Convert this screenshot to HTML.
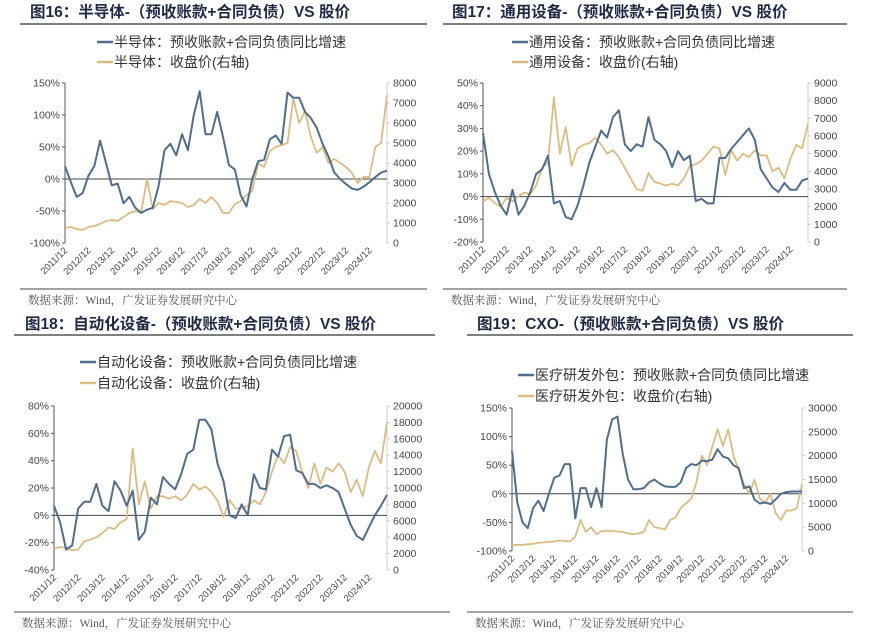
<!DOCTYPE html>
<html><head><meta charset="utf-8"><style>
html,body{margin:0;padding:0;background:#fff;}
svg{display:block;font-family:"Liberation Sans","Noto Sans CJK SC",sans-serif;}
</style></head><body>
<svg id="c" width="869" height="638" viewBox="0 0 869 638"></svg>
<script>
// ---------- data (quarterly from 2011/12) ----------
const yearLabels = ["2011/12","2012/12","2013/12","2014/12","2015/12","2016/12","2017/12","2018/12","2019/12","2020/12","2021/12","2022/12","2023/12","2024/12"];
const semiGrowth = [20,-5,-28,-22,5,20,60,25,-10,-7,-38,-28,-45,-53,-48,-45,-10,45,55,37,70,45,100,137,70,70,105,65,22,15,-25,-43,0,28,30,62,68,55,135,127,127,105,95,80,55,35,10,0,-8,-15,-17,-12,-5,3,10,13];
const semiPrice = [750,800,700,650,800,850,950,1100,1150,1100,1300,1500,1600,1500,3200,1700,2000,1900,2100,2050,2000,1800,1900,2200,2000,2300,2000,1500,1500,1950,2100,2400,2600,4000,3800,4600,4800,4900,5000,7200,6000,6600,5300,4500,4800,4000,4200,4000,3800,3500,3000,3300,3300,4800,5000,7400];
const genGrowth = [28,10,2,-4,-8,3,-8,-4,2,10,12,18,-3,-2,-9,-10,-4,5,15,22,29,26,35,38,23,20,23,22,35,25,23,20,13,20,16,18,-2,-1,-3,-3,17,17,21,24,27,30,25,12,8,4,2,6,3,3,7,8];
const genPrice = [2300,2500,2200,2000,2500,2300,2600,2800,2700,3200,4200,4500,8200,5000,6500,4300,5300,5500,5600,5900,5500,5000,5200,4800,4200,3600,3000,2900,3900,3400,3300,3200,3300,3200,3600,4300,4400,4600,5000,5400,5300,3800,5200,4600,5000,4800,5200,4900,4900,4000,4200,3600,4700,5500,5300,6700];
const autoGrowth = [7,-5,-25,-22,5,10,10,23,7,3,25,18,7,18,-18,-12,13,8,28,23,19,30,45,48,70,70,63,38,25,0,-2,8,0,30,20,19,48,43,58,59,33,31,23,23,20,22,20,17,5,-7,-15,-18,-9,0,7,15];
const autoPrice = [2600,2800,2700,2400,2500,3500,3700,4000,4500,5200,5000,5800,6200,14800,8000,10800,7500,9000,9000,8700,9000,8500,9200,10500,9800,10200,9500,8500,6500,8500,7500,7500,7800,8500,8000,9500,12000,14000,13000,15000,14500,12000,10000,13000,10500,12500,12000,13000,12000,9500,11000,9000,12500,14500,13000,18000];
const cxoGrowth = [75,-15,-50,-60,-25,-12,-30,0,28,32,52,52,-43,10,10,-23,10,-23,95,130,135,70,25,8,8,10,20,25,18,13,12,12,20,45,52,50,58,57,60,78,65,62,50,45,10,13,-10,-17,-15,-18,-10,0,3,4,4,4];
const cxoPrice = [1200,1300,1300,1400,1500,1700,1800,1900,2000,2200,2100,2000,3000,6500,4000,5000,3500,4200,4200,4200,4100,4000,3700,3500,3700,4000,6500,5000,4800,4500,6500,7000,9000,10000,11000,14500,20000,18000,22000,25500,22000,25500,20000,17000,14000,12000,15000,11000,10000,12000,8000,6500,8500,8500,9000,14000];

const panels = [
 {id:"16",title:"图16：半导体-（预收账款+合同负债）VS 股价",name:"半导体",g:semiGrowth,p:semiPrice,
  L:65,R:387,T:83,B:243,lmin:-100,lmax:150,lstep:50,rmax:8000,rstep:1000,tx:30,ty:17,ul:[20,427,24],lx:97,ly:[42,62],fl:[[20,427]],fy:289},
 {id:"17",title:"图17：通用设备-（预收账款+合同负债）VS 股价",name:"通用设备",g:genGrowth,p:genPrice,
  L:483,R:808,T:83,B:242,lmin:-20,lmax:50,lstep:10,rmax:9000,rstep:1000,tx:452,ty:17,ul:[443,847,24],lx:512,ly:[42,62],fl:[[443,847]],fy:289},
 {id:"18",title:"图18：自动化设备-（预收账款+合同负债）VS 股价",name:"自动化设备",g:autoGrowth,p:autoPrice,
  L:54,R:387,T:406,B:570,lmin:-40,lmax:80,lstep:20,rmax:20000,rstep:2000,tx:25,ty:329,ul:[14,435,335],lx:80,ly:[362,383],fl:[[14,435]],fy:612},
 {id:"19",title:"图19：CXO-（预收账款+合同负债）VS 股价",name:"医疗研发外包",g:cxoGrowth,p:cxoPrice,
  L:512,R:802,T:408,B:551,lmin:-100,lmax:150,lstep:50,rmax:30000,rstep:5000,tx:477,ty:329,ul:[467,853,335],lx:518,ly:[375,396],fl:[[467,853],[435,450]],fy:612}
];
const NS="http://www.w3.org/2000/svg";
const svg=document.getElementById('c');
function mk(tag,at,parent,txt){const e=document.createElementNS(NS,tag);for(const k in at)e.setAttribute(k,at[k]);if(txt!==undefined)e.textContent=txt;(parent||svg).appendChild(e);return e;}
const BLUE="#4f6d8c",TAN="#dcbb80";
panels.forEach(P=>{
  const g=mk('g',{});
  
  
  const span=13.75;
  const x=t=>P.L+(t/span)*(P.R-P.L);
  const yl=v=>P.B-(v-P.lmin)/(P.lmax-P.lmin)*(P.B-P.T);
  const yr=v=>P.B-v/P.rmax*(P.B-P.T);
  let e=mk('text',{x:P.tx,y:P.ty,'font-size':15.5,'font-weight':'bold',fill:'#1e2a44'},g,P.title);
  
  e=mk('line',{x1:P.ul[0],x2:P.ul[1],y1:P.ul[2],y2:P.ul[2],stroke:'#333','stroke-width':1.2},g);
  
  [[BLUE,P.name+"：预收账款+合同负债同比增速"],[TAN,P.name+"：收盘价(右轴)"]].forEach((l,i)=>{
    const lg=mk('g',{},g);
    
    
    mk('line',{x1:P.lx,x2:P.lx+16,y1:P.ly[i],y2:P.ly[i],stroke:l[0],'stroke-width':2.5},lg);
    mk('text',{x:P.lx+17,y:P.ly[i]+5,'font-size':14,fill:'#333'},lg,l[1]);
  });
  e=mk('line',{x1:P.L,x2:P.L,y1:P.T,y2:P.B,stroke:'#555','stroke-width':1},g);
  
  for(let v=P.lmin;v<=P.lmax+1e-9;v+=P.lstep){
    mk('line',{x1:P.L-3,x2:P.L,y1:yl(v),y2:yl(v),stroke:'#555'},g);
    mk('text',{x:P.L-5,y:yl(v)+3.5,'font-size':10.5,fill:'#444','text-anchor':'end'},g,v+'%');
  }
  e=mk('line',{x1:P.R,x2:P.R,y1:P.T,y2:P.B,stroke:'#ccc','stroke-width':1},g);
  
  for(let v=0;v<=P.rmax+1e-9;v+=P.rstep){
    mk('line',{x1:P.R,x2:P.R+3,y1:yr(v),y2:yr(v),stroke:'#ccc'},g);
    mk('text',{x:P.R+6,y:yr(v)+3.5,'font-size':10.5,fill:'#444'},g,String(v));
  }
  e=mk('line',{x1:P.L,x2:P.R,y1:yl(0),y2:yl(0),stroke:'#444','stroke-width':1},g);
  
  yearLabels.forEach((lab,i)=>{
    const xx=x(i);
    const t=mk('text',{x:xx+3,y:P.B+8,'font-size':9.5,fill:'#444','text-anchor':'end',transform:`rotate(-45 ${xx+3} ${P.B+8})`},g,lab);
    
  });
  const pts=(arr,f)=>arr.map((v,i)=>x(i*0.25).toFixed(1)+','+f(v).toFixed(1)).join(' ');
  e=mk('polyline',{points:pts(P.p,yr),fill:'none',stroke:TAN,'stroke-width':1.8,'stroke-linejoin':'round'},g);
  
  e=mk('polyline',{points:pts(P.g,yl),fill:'none',stroke:BLUE,'stroke-width':2,'stroke-linejoin':'round'},g);
  
  P.fl.forEach(f=>{mk('line',{x1:f[0],x2:f[1],y1:P.fy,y2:P.fy,stroke:'#444','stroke-width':1},g);});
  e=mk('text',{x:P.fl[0][0]+8,y:P.fy+15,'font-size':11.5,fill:'#555','font-family':'"Liberation Serif","Noto Serif CJK SC",serif'},g,"数据来源：Wind，广发证券发展研究中心");
  
});
</script>
</body></html>
